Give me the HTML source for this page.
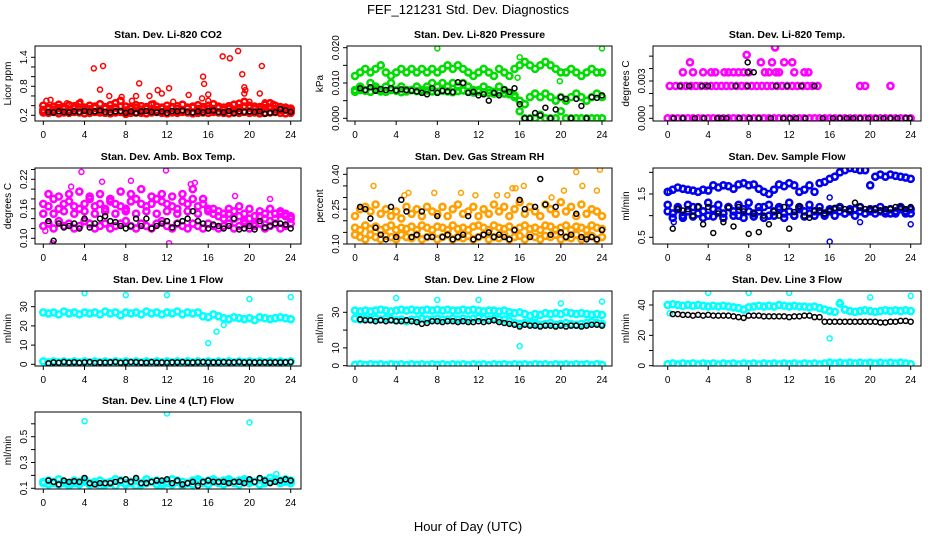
<!DOCTYPE html>
<html><head><meta charset="utf-8"><style>
html,body{margin:0;padding:0;background:#fff}
svg{display:block;font-family:"Liberation Sans",sans-serif}
</style></head><body>
<svg id="chart" width="936" height="540" viewBox="0 0 936 540">
<text x="468" y="14" text-anchor="middle" font-size="13">FEF_121231  Std. Dev. Diagnostics</text>
<text x="468" y="531" text-anchor="middle" font-size="13">Hour of Day (UTC)</text>
</svg>
<script>
// ---- data (hours 0..24 every 0.5 h) ----
const HOURS = []; for (let i = 0; i < 49; i++) HOURS.push(i * 0.5);
const xTicks = [0,4,8,12,16,20,24];

const co2A = [.26,.25,.27,.24,.26,.25,.27,.26,.24,.25,.27,.26,.25,.24,.26,.27,.23,.25,.26,.25,.24,.26,.27,.25,.24,.26,.25,.27,.26,.24,.25,.26,.25,.27,.26,.25,.24,.26,.25,.27,.25,.26,.24,.25,.26,.27,.25,.24,.25];
const co2B = [.31,.33,.32,.35,.33,.31,.34,.36,.32,.33,.35,.32,.34,.33,.36,.38,.30,.33,.35,.32,.34,.33,.31,.34,.32,.35,.33,.31,.34,.36,.33,.32,.34,.33,.35,.31,.34,.32,.35,.38,.36,.33,.32,.34,.36,.33,.31,.32,.30];
const co2C = [.40,.36,.38,.42,.37,.41,.39,.44,.36,.40,.38,.43,.37,.41,.45,.50,.38,.37,.41,.39,.37,.42,.38,.36,.40,.37,.39,.42,.36,.38,.41,.37,.40,.43,.38,.36,.39,.42,.44,.48,.40,.38,.37,.42,.45,.40,.37,.36,.34];
const co2OutX = [0.3,0.7,4.9,5.8,5.5,6.4,7.6,9.3,9.0,10.3,11.1,11.5,12.2,12.6,14.1,15.5,15.6,15.4,16.0,16.0,17.4,18.1,18.9,19.3,19.5,19.6,19.5,20.0,21.0,21.2,21.5,22.3,2.3,3.6,8.6,10.7];
const co2OutY = [0.5,0.52,1.17,1.22,0.73,0.6,0.58,0.86,0.6,0.6,0.72,0.65,0.76,0.48,0.62,1.0,0.85,0.55,0.63,0.5,1.42,1.38,1.53,1.05,0.78,0.72,0.65,0.48,0.65,1.22,0.47,0.44,0.45,0.48,0.5,0.45];
const co2Black = [null,.27,.26,.28,.27,.26,.28,.27,.29,.27,.28,.30,.27,.26,.28,.29,.25,.28,.24,.28,.29,.27,.26,.28,.25,.29,.28,.30,.27,.26,.28,.26,.29,.30,.27,.26,.29,.24,.28,.27,.28,.27,.28,.23,.25,.26,.33,.30,.27];

const presA = [.012,.013,.014,.013,.014,.015,.013,.012,.013,.014,.013,.014,.013,.014,.013,.014,.013,.014,.015,.014,.015,.014,.013,.012,.013,.014,.013,.012,.014,.013,.012,.014,.015,.016,.015,.014,.015,.016,.015,.014,.013,.013,.014,.013,.012,.013,.014,.013,.013];
const presB = [.008,.009,.008,.010,.009,.008,.009,.010,.008,.009,.008,.008,.009,.008,.009,.010,.009,.010,.009,.010,.009,.010,.009,.008,.008,.009,.008,.007,.009,.008,.007,.006,.005,.004,.006,.007,.006,.007,.006,.005,.006,.005,.006,.007,.006,.005,.006,.007,.006];
const presC = [.0075,.008,.0078,.0075,.0082,.0076,.0075,.008,.0078,.0074,.0076,.008,.0077,.0075,.0079,.0076,.0075,.0078,.0076,.0074,.0077,.0079,.0075,.0073,.0076,.0074,.0072,.0075,.0073,.0070,.0068,.0065,.002,0,0,0,.001,0,0,0,.002,0,0,0,0,0,0,0,0];
const presOutX = [8,24,16,15.8,19.9];
const presOutY = [.0198,.0198,.0173,.0115,.0105];
const presBlack = [null,.0085,.008,.0088,.0078,.0083,.008,.0085,.0079,.0082,.008,.0078,.0076,.0072,.0068,.0085,.0072,.0078,.0076,.0074,.0102,.01,.0072,.0075,.0065,.0068,.005,.0072,.0065,.0082,.0075,.0085,.004,0,0,.0015,.0008,.003,0,.0025,.006,.0055,0,.0055,.0035,0,.006,.0058,.0065];

const tempZero = [0,0,0,0,0,0,0,0,0,0,0,0,0,0,0,0,0,0,0,0,0,0,0,0,0,0,0,0,0,0,0,0,0,0,0,0,0,0,0,0,0,0,0,0,0,0,0,0,0];
const tempMagX = [0.2,0.8,1.3,1.8,2.3,2.8,3.3,3.8,4.3,4.8,5.3,5.8,6.3,6.8,7.3,7.8,8.3,8.8,9.3,9.8,10.3,10.8,11.3,11.8,12.3,12.8,13.3,13.8,14.3,14.8,19,19.5,22,1.5,2.5,3.5,4.3,4.7,5.6,6.0,6.5,7.0,7.5,8.0,9.6,10.0,10.7,11.0,12.5,13.5,13.9,2.2,9.2,10.3,11.5,12.3,7.8,10.6];
const tempMagY = [.0026,.0026,.0026,.0026,.0026,.0026,.0026,.0026,.0026,.0026,.0026,.0026,.0026,.0026,.0026,.0026,.0026,.0026,.0026,.0026,.0026,.0026,.0026,.0026,.0026,.0026,.0026,.0026,.0026,.0026,.0026,.0026,.0026,.0037,.0037,.0037,.0037,.0037,.0037,.0037,.0037,.0037,.0037,.0037,.0037,.0037,.0037,.0037,.0037,.0037,.0037,.0045,.0045,.0045,.0045,.0045,.0051,.0057];
const tempBlkX = [0.6,1.5,2.7,3.6,4.9,5.3,5.8,7.1,8.1,9.0,10.2,11.4,12.1,12.7,13.6,15.3,16.3,17.0,17.7,18.3,19.0,19.8,20.6,21.3,22.0,22.7,23.5,23.9,1.2,2.1,3.4,4.0,6.7,7.9,10.7,11.8,13.2,14.5,7.9,8.5,7.9];
const tempBlkY = [0,0,0,0,0,0,0,0,0,0,0,0,0,0,0,0,0,0,0,0,0,0,0,0,0,0,0,0,.0026,.0026,.0026,.0026,.0026,.0026,.0026,.0026,.0026,.0026,.0037,.0037,.0045];

const ambA = [.17,.165,.18,.16,.17,.175,.165,.16,.17,.18,.165,.17,.16,.175,.17,.165,.16,.175,.18,.17,.165,.17,.18,.175,.17,.165,.16,.175,.17,.18,.165,.17,.16,.15,.145,.14,.15,.14,.145,.135,.14,.13,.145,.14,.135,.14,.15,.145,.14];
const ambB = [.125,.13,.12,.135,.125,.13,.12,.125,.135,.13,.12,.125,.13,.12,.125,.13,.135,.125,.12,.13,.125,.12,.13,.135,.125,.12,.13,.125,.12,.13,.125,.12,.13,.125,.12,.125,.13,.12,.125,.13,.12,.125,.13,.12,.125,.13,.12,.125,.13];
const ambC = [.15,.19,.15,.185,.155,.19,.15,.195,.155,.185,.15,.19,.155,.18,.15,.195,.155,.19,.15,.2,.155,.185,.15,.19,.155,.185,.15,.19,.155,.2,.15,.18,.155,.16,.155,.15,.16,.155,.165,.15,.16,.145,.155,.15,.16,.15,.155,.15,.145];
const ambOutX = [3.7,11.9,5.7,8.5,14.7,14.3,2.7,12.2,0.9,18.6,22,0.2,23.6];
const ambOutY = [.235,.238,.215,.217,.213,.21,.205,.09,.09,.186,.18,.115,.125];
const ambBlack = [null,.135,.095,.13,.122,.125,.13,.12,.14,.122,.13,.14,.145,.135,.133,.125,.12,.125,.14,.125,.14,.12,.125,.13,.135,.122,.13,.135,.14,.155,.135,.13,.12,.128,.125,.12,.125,.14,.118,.12,.125,.118,.135,.122,.125,.13,.13,.128,.12];

const rhA = [.14,.13,.12,.14,.13,.12,.135,.13,.12,.14,.13,.125,.14,.12,.13,.135,.12,.13,.14,.12,.13,.125,.135,.12,.13,.14,.12,.13,.125,.14,.12,.13,.135,.12,.14,.13,.12,.135,.13,.14,.12,.13,.125,.14,.12,.13,.135,.12,.13];
const rhB = [.17,.16,.18,.165,.175,.16,.17,.18,.16,.17,.165,.175,.16,.18,.17,.16,.175,.17,.16,.18,.165,.17,.16,.175,.18,.17,.16,.18,.17,.165,.175,.16,.17,.18,.165,.17,.16,.18,.175,.16,.17,.18,.16,.175,.17,.16,.18,.17,.165];
const rhC = [.22,.25,.26,.24,.27,.23,.25,.22,.24,.21,.26,.23,.25,.22,.26,.24,.23,.26,.22,.25,.27,.23,.24,.26,.22,.25,.23,.27,.24,.26,.22,.25,.28,.23,.26,.24,.22,.27,.25,.23,.28,.24,.26,.22,.27,.23,.25,.24,.22];
const rhOutX = [1.8,4.8,5.2,7.7,10.3,11.7,13.8,14.8,15.3,15.6,16.4,21.5,23.8,22.1,23.5,20.3,19.1];
const rhOutY = [.35,.31,.32,.32,.32,.31,.31,.31,.34,.34,.35,.41,.42,.35,.33,.33,.30];
const rhBlack = [null,.26,.25,.21,.17,.14,.12,.26,.13,.29,.24,.13,.14,.24,.13,.13,.22,.13,.14,.12,.13,.14,.22,.12,.13,.14,.15,.13,.14,.13,.12,.16,.29,.25,.13,.26,.38,.27,.14,.26,.15,.13,.14,.23,.13,.12,.13,.12,.16];

const flowA = [1.1,1.05,1.15,1.0,1.1,1.2,1.05,1.1,1.0,1.15,1.1,1.05,1.2,1.1,1.0,1.15,1.1,1.05,1.1,1.2,1.0,1.1,1.15,1.05,1.1,1.0,1.15,1.1,1.05,1.1,1.1,1.05,1.1,1.15,1.1,1.05,1.1,1.15,1.1,1.05,1.1,1.15,1.1,1.1,1.05,1.1,1.15,1.1,1.05];
const flowB = [1.25,0.95,1.2,0.95,1.25,0.98,1.2,0.95,1.3,0.98,1.25,0.95,1.2,1.0,1.25,0.95,1.3,0.98,1.2,0.95,1.25,1.0,1.2,0.95,1.3,1.0,1.2,0.98,1.25,1.0,1.2,1.0,1.15,1.0,1.2,1.05,1.15,1.0,1.2,1.05,1.15,1.05,1.2,1.05,1.15,1.05,1.2,1.05,1.15];
const flowC = [1.55,1.6,1.65,1.62,1.6,1.58,1.55,1.6,1.58,1.7,1.65,1.7,1.68,1.62,1.72,1.75,1.7,1.72,1.62,1.55,1.5,1.6,1.72,1.68,1.75,1.7,1.55,1.6,1.7,1.55,1.75,1.78,1.85,1.9,2.0,2.05,2.1,2.08,2.05,2.05,1.7,1.9,1.95,1.9,1.95,1.92,1.9,1.88,1.85];
const flowOutX = [16,24,16,19,0.6,0.2];
const flowOutY = [0.4,0.8,1.42,0.85,0.85,1.55];
const flowBlack = [null,0.7,1.15,1.12,1.15,1.0,1.2,0.8,1.2,0.6,1.05,0.85,1.18,0.75,1.2,1.1,0.58,1.05,0.62,1.0,0.8,1.1,1.0,1.2,0.7,1.08,1.22,1.0,0.95,1.12,1.12,1.05,1.12,1.18,1.18,1.15,1.12,1.3,1.2,1.15,1.15,1.15,1.12,1.15,1.15,1.2,1.2,1.15,1.2];

const l1A = [27,26.5,27,26,27.5,26.5,27,26,27,26.5,27,26,27.5,26.5,27,25.5,27,26.5,27,26,27.5,26.5,27,26,27,26.5,27.5,26,27,26.5,27,25,24.5,26,25,24,23.5,24.5,24,23.5,24,23,24.5,24,23.5,24,24.5,24,23.5];
const l1B = [1.5,1,1.5,1,1.5,1,1.5,1,1.5,1,1.5,1,1.5,1,1.5,1,1.5,1,1.5,1,1.5,1,1.5,1,1.5,1,1.5,1,1.5,1,1.5,1,1.5,1,1.5,1,1.5,1,1.5,1,1.5,1,1.5,1,1.5,1,1.5,1,1.5];
const l1OutX = [4,8,12,20,24,16,16.8,17.5];
const l1OutY = [37,36,36,34,35,11,17,20.5];
const l1Black = [null,0.5,1,0.8,1.2,0.9,1.1,0.8,1,1.2,0.7,1,0.9,1.1,1.2,0.8,1,1.2,1.1,1,0.8,1.2,0.9,1,0.8,1.1,1,1.2,0.9,1,1.1,1.2,1,1.1,1,1.2,1,1.1,1.2,1,1.1,1,1,1.1,1,1.1,1,1.1,1.2];

const l2A = [31,30.5,31,30.5,31,31.5,31,30.5,31,31.5,31,31.5,31,31,31.5,31,31.5,31,31.5,31,31,31.5,31,31.5,31,30.5,31,31,30.5,31,30,29.5,30,29,28,29,28.5,29.5,29,29.5,29,30,29.5,29,29.5,29,28.5,29,28.5];
const l2B = [26.5,26,26.5,26,26.5,26,26.5,26,25.5,26,25,26,26,26.5,26,26,26.5,26,26,26.5,26,26.5,26,26.5,27,26.5,26,26.5,26,26,25,24,23.5,24,23.5,24,23,23.5,24,23,23.5,24,23.5,23,23.5,24,24.5,24,23.5];
const l2C = [0.5,0.8,0.3,0.8,0.5,0.8,0.3,0.8,0.5,0.8,0.3,0.8,0.5,0.8,0.3,0.8,0.5,0.8,0.3,0.8,0.5,0.8,0.3,0.8,0.5,0.8,0.3,0.8,0.5,0.8,0.3,0.8,0.5,0.8,0.3,0.8,0.5,0.8,0.3,0.8,0.5,0.8,0.3,0.8,0.5,0.8,0.3,0.8,0.5];
const l2OutX = [4,8,12,20,24,16,15,17.5];
const l2OutY = [38,37,37,35,36,11,28,26];
const l2Black = [null,26,25.5,25.5,25,25.5,25,25.5,25,25,25.5,25,24.5,23.5,24,25,25,24.5,25,25,24.5,25,24.5,24.5,25,24.5,25,25.5,24.5,24,23.5,23,22,23,22.5,22.5,22,22.5,22.5,22,22.5,22,22.5,22.5,22,22.5,23,23,22.5];

const l3A = [40,40.5,40,39.5,40,39.5,40,39.5,39,39.5,39,39.5,39,38.5,38,37,38.5,39,39.5,39,39.5,39,40,39.5,39,39.5,39,39,38.5,39,38,37,36,35.5,41,37,36,35.5,36,36.5,36,35.5,36,36.5,36,36.5,36,36.5,36];
const l3C = [1,1.5,0.8,1.5,1,1.5,0.8,1.5,1,1.5,0.8,1.5,1,1.5,0.8,1.5,1,1.5,0.8,1.5,1,1.5,0.8,1.5,1,1.5,0.8,1.5,1,1.5,0.8,1.5,2,1.5,2,1.5,2,1.5,2,1.5,2,1.5,2,1.5,2,1.5,2,1.5,1];
const l3OutX = [4,8,12,20,24,16,17,0.2];
const l3OutY = [48,48,48,45,46,18,42,34.5];
const l3Black = [null,34,34,33.5,33.5,33,33.5,33,33.5,33,33,33,33,32.5,32,31.5,33,33,33,32.5,32.5,32.5,32.5,32.5,32,32.5,32.5,33,33,32,32,29,29,29,29,29,29,29,29,29,29,29,28.5,28.5,29,29,29.5,29.5,29];

const l4A = [.15,.16,.14,.17,.15,.14,.16,.15,.17,.14,.15,.16,.14,.15,.17,.16,.14,.15,.16,.14,.17,.15,.16,.14,.15,.17,.16,.15,.14,.16,.17,.15,.16,.17,.15,.16,.17,.15,.16,.17,.16,.15,.17,.16,.18,.17,.16,.17,.16];
const l4B = [.14,.13,.15,.13,.14,.12,.14,.13,.15,.13,.14,.12,.13,.14,.12,.15,.13,.14,.12,.13,.14,.15,.13,.12,.14,.13,.15,.12,.14,.13,.15,.14,.13,.15,.14,.13,.15,.14,.13,.15,.14,.15,.13,.14,.15,.16,.14,.15,.14];
const l4OutX = [4,12,20,22.6];
const l4OutY = [.62,.68,.61,.21];
const l4Black = [null,.16,.15,.13,.16,.15,.155,.15,.18,.14,.13,.14,.14,.14,.15,.16,.17,.15,.18,.14,.14,.15,.16,.16,.17,.14,.16,.13,.14,.15,.12,.15,.16,.15,.15,.15,.14,.15,.15,.14,.17,.15,.18,.16,.14,.15,.16,.17,.16];

// ---- layout ----
const COLS = [{l:35,r:301,x0:43.3,x24:290.7},{l:347,r:612,x0:355,x24:602},{l:653,r:921,x0:667.7,x24:910.7}];
const ROWS = [{t:46,b:121},{t:168,b:244},{t:291,b:366},{t:412,b:489}];
const NS = "http://www.w3.org/2000/svg";
const svg = document.getElementById('chart');
function el(tag, attrs, parent) { const e = document.createElementNS(NS, tag); for (const k in attrs) e.setAttribute(k, attrs[k]); (parent || svg).appendChild(e); return e; }

const panels = [
 {c:0,r:0,name:'co2',title:'Stan. Dev. Li-820 CO2',ylab:'Licor ppm',va:0.2,ya:115.3,vb:1.4,yb:57.3,ticks:[0.2,0.4,0.6,0.8,1.0,1.2,1.4],labels:['0.2','0.8','1.4'],labelVals:[0.2,0.8,1.4],
  series:[['#ff0000',co2A,1],['#ff0000',co2B,1],['#ff0000',co2C,1],['#ff0000',co2OutY,0,co2OutX],['#000000',co2Black,0]]},
 {c:1,r:0,name:'pressure',title:'Stan. Dev. Li-820 Pressure',ylab:'kPa',va:0,ya:118.3,vb:0.02,yb:47.7,ticks:[0,0.005,0.01,0.015,0.02],labels:['0.000','0.010','0.020'],labelVals:[0,0.01,0.02],
  series:[['#00dd00',presA,1],['#00dd00',presB,1],['#00dd00',presC,1],['#00dd00',presOutY,0,presOutX],['#000000',presBlack,0]]},
 {c:2,r:0,name:'li820-temp',title:'Stan. Dev. Li-820 Temp.',ylab:'degrees C',va:0,ya:118.3,vb:0.003,yb:81,ticks:[0,0.001,0.002,0.003,0.004,0.005],labels:['0.000','0.003'],labelVals:[0,0.003],
  series:[['#ff00ff',tempZero,1],['#ff00ff',tempMagY,1,tempMagX],['#000000',tempBlkY,0,tempBlkX]]},
 {c:0,r:1,name:'amb-box-temp',title:'Stan. Dev. Amb. Box Temp.',ylab:'degrees C',va:0.10,ya:238.3,vb:0.22,yb:179.3,ticks:[0.10,0.12,0.14,0.16,0.18,0.20,0.22,0.24],labels:['0.10','0.16','0.22'],labelVals:[0.10,0.16,0.22],
  series:[['#ff00ff',ambA,1],['#ff00ff',ambB,1],['#ff00ff',ambC,1],['#ff00ff',ambOutY,0,ambOutX],['#000000',ambBlack,0]]},
 {c:1,r:1,name:'gas-stream-rh',title:'Stan. Dev. Gas Stream RH',ylab:'percent',va:0.10,ya:244,vb:0.40,yb:174.3,ticks:[0.10,0.15,0.20,0.25,0.30,0.35,0.40],labels:['0.10','0.25','0.40'],labelVals:[0.10,0.25,0.40],
  series:[['#ffa000',rhA,1],['#ffa000',rhB,1],['#ffa000',rhC,1],['#ffa000',rhOutY,0,rhOutX],['#000000',rhBlack,0]]},
 {c:2,r:1,name:'sample-flow',title:'Stan. Dev. Sample Flow',ylab:'ml/min',va:0.5,ya:237.3,vb:1.5,yb:194,ticks:[0.5,1.0,1.5,2.0],labels:['0.5','1.5'],labelVals:[0.5,1.5],
  series:[['#0000ee',flowA,1],['#0000ee',flowB,1],['#0000ee',flowC,1],['#0000ee',flowOutY,0,flowOutX],['#000000',flowBlack,0]]},
 {c:0,r:2,name:'line1-flow',title:'Stan. Dev. Line 1 Flow',ylab:'ml/min',va:0,ya:364.3,vb:30,yb:306.7,ticks:[0,10,20,30],labels:['0','10','20','30'],labelVals:[0,10,20,30],
  series:[['#00ffff',l1A,1],['#00ffff',l1B,1],['#00ffff',l1OutY,0,l1OutX],['#000000',l1Black,0]]},
 {c:1,r:2,name:'line2-flow',title:'Stan. Dev. Line 2 Flow',ylab:'ml/min',va:0,ya:365.7,vb:30,yb:312.3,ticks:[0,10,20,30],labels:['0','10','30'],labelVals:[0,10,30],
  series:[['#00ffff',l2A,1],['#00ffff',l2B,1],['#00ffff',l2C,1],['#00ffff',l2OutY,0,l2OutX],['#000000',l2Black,0]]},
 {c:2,r:2,name:'line3-flow',title:'Stan. Dev. Line 3 Flow',ylab:'ml/min',va:0,ya:365.7,vb:40,yb:305,ticks:[0,10,20,30,40],labels:['0','20','40'],labelVals:[0,20,40],
  series:[['#00ffff',l3A,1],['#00ffff',l3C,1],['#00ffff',l3OutY,0,l3OutX],['#000000',l3Black,0]]},
 {c:0,r:3,name:'line4-flow',title:'Stan. Dev. Line 4 (LT) Flow',ylab:'ml/min',va:0.1,ya:488.3,vb:0.5,yb:436.7,ticks:[0.1,0.2,0.3,0.4,0.5,0.6],labels:['0.1','0.3','0.5'],labelVals:[0.1,0.3,0.5],
  series:[['#00ffff',l4A,1],['#00ffff',l4B,1],['#00ffff',l4OutY,0,l4OutX],['#000000',l4Black,0]]}
];

panels.forEach(p => {
  const C = COLS[p.c], R = ROWS[p.r];
  const xs = h => C.x0 + h * (C.x24 - C.x0) / 24;
  const ys = v => p.ya + (v - p.va) * (p.yb - p.ya) / (p.vb - p.va);
  const g = el('g', {});
  
  
  const clipId = 'clip-' + p.name;
  const cp = el('clipPath', {id: clipId}, g);
  el('rect', {x: C.l, y: R.t, width: C.r - C.l, height: R.b - R.t}, cp);
  const t = el('text', {x: (C.l + C.r) / 2, y: R.t - 8, 'text-anchor': 'middle', 'font-size': 10.5, 'font-weight': 'bold'}, g);
  t.textContent = p.title;
  
  
  const yl = el('text', {x: 0, y: 0, 'text-anchor': 'middle', 'font-size': 10, transform: `translate(${C.l - 24},${(R.t + R.b) / 2}) rotate(-90)`}, g);
  yl.textContent = p.ylab;
  
  
  const xa = el('g', {stroke: '#000', 'stroke-width': 1}, g);
  
  
  el('line', {x1: xs(xTicks[0]), x2: xs(xTicks[xTicks.length - 1]), y1: R.b, y2: R.b}, xa);
  xTicks.forEach(v => {
    el('line', {x1: xs(v), x2: xs(v), y1: R.b, y2: R.b + 4}, xa);
    const tl = el('text', {x: xs(v), y: R.b + 17, 'text-anchor': 'middle', 'font-size': 10, stroke: 'none'}, xa);
    tl.textContent = v;
  });
  const ya = el('g', {stroke: '#000', 'stroke-width': 1}, g);
  
  
  el('line', {x1: C.l, x2: C.l, y1: ys(p.ticks[0]), y2: ys(p.ticks[p.ticks.length - 1])}, ya);
  p.ticks.forEach(v => el('line', {x1: C.l - 4, x2: C.l, y1: ys(v), y2: ys(v)}, ya));
  p.labels.forEach((lab, i) => {
    const yy = ys(p.labelVals[i]);
    const tl = el('text', {x: 0, y: 0, 'text-anchor': 'middle', 'font-size': 10, stroke: 'none', transform: `translate(${C.l - 8},${yy}) rotate(-90)`}, ya);
    tl.textContent = lab;
  });
  const pg = el('g', {'clip-path': `url(#${clipId})`, fill: 'none'}, g);
  p.series.forEach((s, si) => {
    const [col, vals, dense, xsArr] = s;
    const sg = el('g', {stroke: col, 'stroke-width': dense ? 2.6 : 1.5}, pg);
    
    
    vals.forEach((v, i) => {
      if (v === null) return;
      const h = xsArr ? xsArr[i] : HOURS[i];
      const c = el('circle', {cx: xs(h), cy: ys(v), r: dense ? 3 : 2.5}, sg);
      
      
    });
  });
  const box = el('rect', {x: C.l, y: R.t, width: C.r - C.l, height: R.b - R.t, fill: 'none', stroke: '#000', 'stroke-width': 1}, g);
  
  
});
</script>
</body></html>
